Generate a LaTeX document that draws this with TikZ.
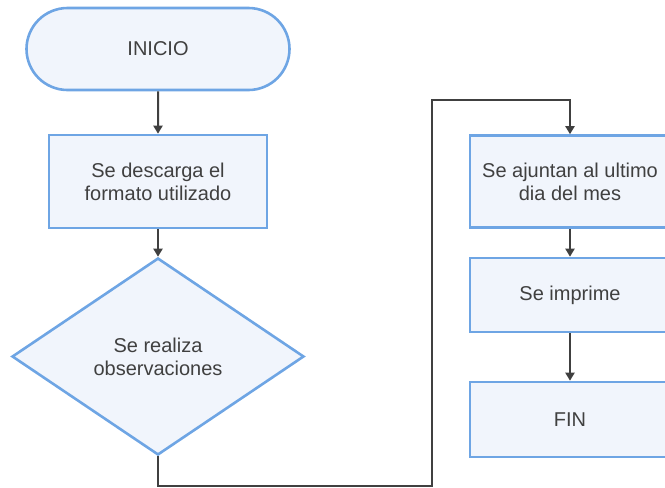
\documentclass[tikz,border=0pt]{standalone}
\usepackage{fontspec}
\setmainfont{Liberation Sans}
\usetikzlibrary{shapes.geometric,shapes.misc,arrows.meta}
\definecolor{borde}{RGB}{110,165,228}
\definecolor{relleno}{RGB}{241,245,252}
\definecolor{linea}{RGB}{64,64,64}
\begin{document}
\begin{tikzpicture}[x=1pt,y=-1pt,
    caja/.style={draw=borde,fill=relleno,line width=2.6pt,text=linea,align=center,
      font=\fontsize{20}{23}\selectfont,inner sep=0pt},
    flecha/.style={draw=linea,line width=2pt,-{Triangle[width=9pt,length=8pt]}}]
        \useasboundingbox (0,0) rectangle (665,488);
        \clip (0,0) rectangle (665,488);
        \node[caja,rounded rectangle,minimum width=263pt,minimum height=82pt] (inicio) at (158,49) {INICIO};
        \node[caja,rectangle,minimum width=218pt,minimum height=93pt] (descarga) at (158,181.5) {Se descarga el\\formato utilizado};
        \node[caja,diamond,aspect=1.48,minimum width=292pt,minimum height=197pt] (observ) at (158,356.5) {Se realiza\\observaciones};
        \node[caja,rectangle,minimum width=200pt,minimum height=92pt] (ajuntan) at (570,181.5) {Se ajuntan al ultimo\\dia del mes};
        \node[caja,rectangle,minimum width=200pt,minimum height=74pt] (imprime) at (570,295) {Se imprime};
        \node[caja,rectangle,minimum width=200pt,minimum height=75pt] (fin) at (570,419.5) {FIN};
        \coordinate (abajo) at (432,486);
        \coordinate (arriba) at (432,100);
        \draw[flecha] (inicio) -- (descarga);
        \draw[flecha] (descarga) -- (observ);
        \draw[flecha] (observ.south) |- (abajo) -- (arriba) -| (ajuntan.north);
        \draw[flecha] (ajuntan) -- (imprime);
        \draw[flecha] (imprime) -- (fin);
    \end{tikzpicture}
\end{document}
